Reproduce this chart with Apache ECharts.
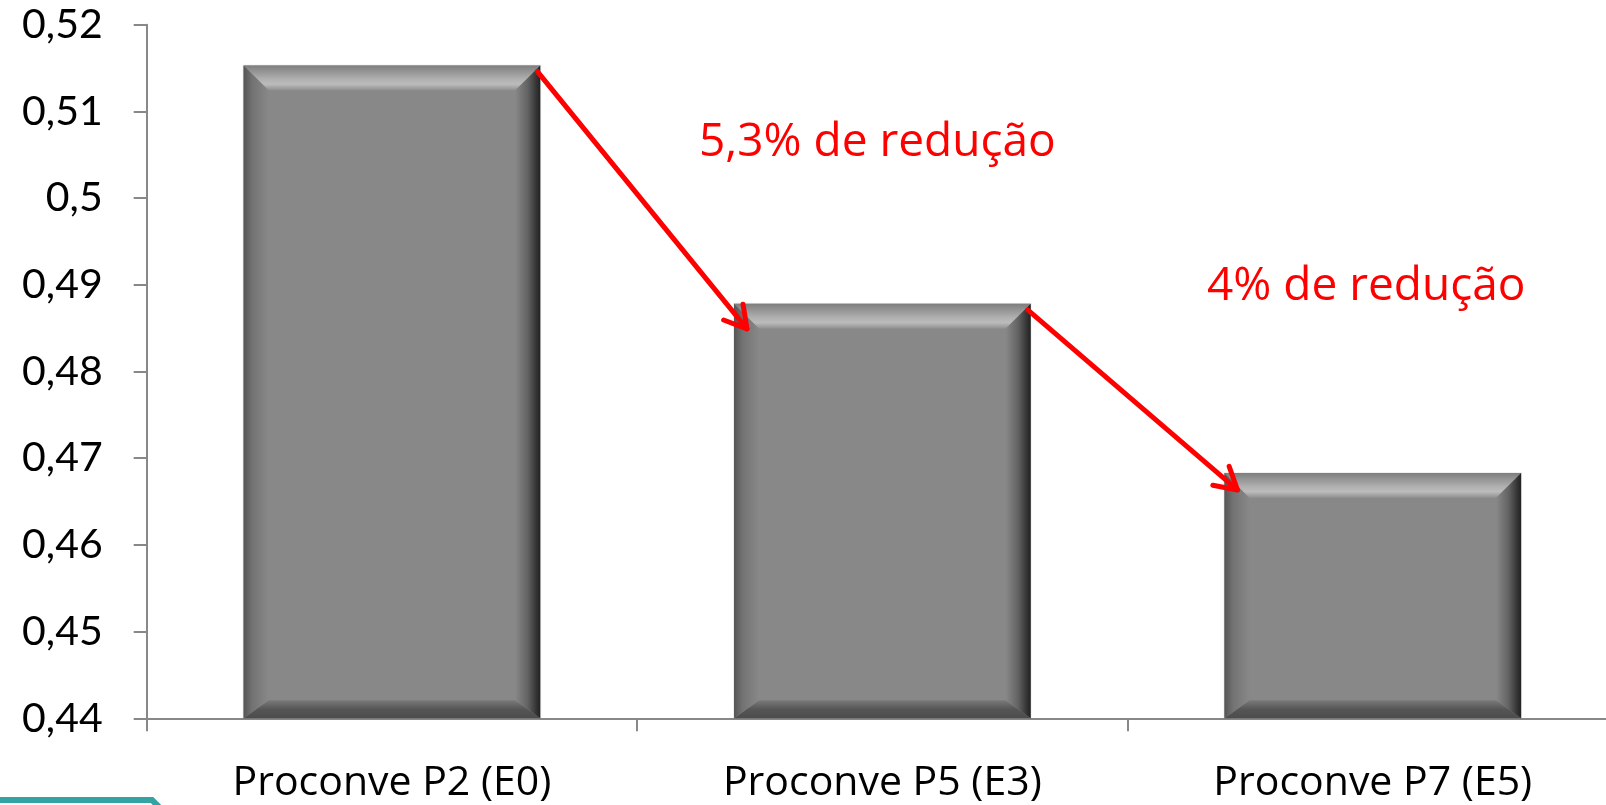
<!DOCTYPE html>
<html>
<head>
<meta charset="utf-8">
<script src="https://cdn.jsdelivr.net/npm/echarts@6/dist/echarts.min.js"></script>
<style>
  html, body { margin: 0; padding: 0; background: #ffffff; overflow: hidden; }
  #chart { width: 1618px; height: 805px; }
</style>
</head>
<body>
<div id="chart"></div>
<script>
// ---- data ----
const categories = ['Proconve P2 (E0)', 'Proconve P5 (E3)', 'Proconve P7 (E5)'];
const values = [0.5153, 0.4878, 0.4683];
const yTickLabels = ['0,44', '0,45', '0,46', '0,47', '0,48', '0,49', '0,5', '0,51', '0,52'];
const annotations = ['5,3% de redução', '4% de redução'];

const Y_MIN = 0.44, Y_MAX = 0.52, Y_STEP = 0.01;
const BAR_FRAC = 0.605;
const FONT_Y = 'Lato, "Open Sans", sans-serif';
const FONT = '"Open Sans", Lato, sans-serif';

function lg(x, y, x2, y2, stops) {
  return new echarts.graphic.LinearGradient(x, y, x2, y2, stops.map(s => ({ offset: s[0], color: s[1] })));
}

function renderBar(params, api) {
  const cat = api.value(0), val = api.value(1);
  const top = api.coord([cat, val]);
  const base = api.coord([cat, Y_MIN]);
  const bw = api.size([1, 0])[0] * BAR_FRAC;
  const x0 = top[0] - bw / 2, x1 = top[0] + bw / 2, y0 = top[1], y1 = base[1];
  const bt = 25, bs = 25, bb = 18;
  return {
    type: 'group',
    children: [
      { type: 'rect', shape: { x: x0 - 1, y: y0 - 1, width: bw + 2, height: y1 - y0 + 1 },
        style: { fill: 'rgba(0,0,0,0.06)' } },
      { type: 'rect', shape: { x: x0, y: y0, width: bw, height: y1 - y0 },
        style: { fill: '#888888' } },
      { type: 'polygon', shape: { points: [[x0, y0], [x1, y0], [x1 - bs, y0 + bt], [x0 + bs, y0 + bt]] },
        style: { fill: lg(0, 0, 0, 1, [[0, '#7e7e7e'], [0.55, '#b0b0b0'], [0.75, '#bcbcbc'], [1, '#8e8e8e']]) } },
      { type: 'polygon', shape: { points: [[x0, y1], [x1, y1], [x1 - bs, y1 - bb], [x0 + bs, y1 - bb]] },
        style: { fill: lg(0, 0, 0, 1, [[0, '#7a7a7a'], [0.5, '#555555'], [1, '#4c4c4c']]) } },
      { type: 'polygon', shape: { points: [[x0, y0], [x0 + bs, y0 + bt], [x0 + bs, y1 - bb], [x0, y1]] },
        style: { fill: lg(0, 0, 1, 0, [[0, '#555555'], [0.35, '#737373'], [1, '#888888']]) } },
      { type: 'polygon', shape: { points: [[x1, y0], [x1 - bs, y0 + bt], [x1 - bs, y1 - bb], [x1, y1]] },
        style: { fill: lg(0, 0, 1, 0, [[0, '#888888'], [0.5, '#626262'], [0.85, '#333333'], [1, '#222222']]) } }
    ]
  };
}

function renderArrow(params, api) {
  const i = api.value(0), j = api.value(2);
  const bw = api.size([1, 0])[0] * BAR_FRAC;
  const pA = api.coord([i, api.value(1)]);
  const pB = api.coord([j, api.value(3)]);
  const sx = pA[0] + bw / 2 - 3, sy = pA[1] + 6;
  const tx = pB[0] - bw / 2 + 13, ty = pB[1] + (params.dataIndex === 0 ? 25 : 17);
  const ang = Math.atan2(sy - ty, sx - tx);
  const L = 25, a = Math.PI / 6;
  const h1 = [tx + L * Math.cos(ang + a), ty + L * Math.sin(ang + a)];
  const h2 = [tx + L * Math.cos(ang - a), ty + L * Math.sin(ang - a)];
  const st = { stroke: '#ff0000', lineWidth: 5, lineCap: 'round', lineJoin: 'round', fill: null };
  return {
    type: 'group',
    children: [
      { type: 'line', shape: { x1: sx, y1: sy, x2: tx, y2: ty }, style: st },
      { type: 'polyline', shape: { points: [h1, [tx, ty], h2] }, style: st }
    ]
  };
}

const chart = echarts.init(document.getElementById('chart'), null, { renderer: 'canvas' });
chart.setOption({
  animation: false,
  backgroundColor: '#ffffff',
  grid: { left: 146.7, top: 24.7, right: 0, height: 693.6, containLabel: false },
  xAxis: {
    type: 'category',
    data: categories,
    boundaryGap: true,
    axisLine: { lineStyle: { color: '#888888', width: 2 } },
    axisTick: { show: true, length: 13, lineStyle: { color: '#888888', width: 2 } },
    axisLabel: { fontFamily: FONT, fontSize: 41, color: '#000000', margin: 45 },
    splitLine: { show: false }
  },
  yAxis: {
    type: 'value',
    min: Y_MIN, max: Y_MAX, interval: Y_STEP,
    axisLine: { show: true, lineStyle: { color: '#888888', width: 2 } },
    axisTick: { show: true, length: 13, lineStyle: { color: '#888888', width: 2 } },
    axisLabel: {
      fontFamily: FONT_Y, fontSize: 41, color: '#000000', margin: 44,
      formatter: function (v) { return yTickLabels[Math.round((v - Y_MIN) / Y_STEP)]; }
    },
    splitLine: { show: false }
  },
  series: [
    {
      type: 'custom',
      renderItem: renderBar,
      encode: { x: 0, y: 1 },
      data: categories.map((c, i) => [i, values[i]]),
      z: 2
    },
    {
      type: 'custom',
      renderItem: renderArrow,
      encode: { x: [0, 2], y: [1, 3] },
      data: [[0, values[0], 1, values[1]], [1, values[1], 2, values[2]]],
      z: 5
    }
  ],
  graphic: [
    { type: 'text', left: 699, top: 120, style: { text: annotations[0], fill: '#ff0000', font: '46px ' + FONT }, z: 10 },
    { type: 'text', left: 1207, top: 264, style: { text: annotations[1], fill: '#ff0000', font: '46px ' + FONT }, z: 10 },
    { type: 'polyline', shape: { points: [[-5, 800], [152, 800], [162, 810]] },
      style: { stroke: '#34a3a3', lineWidth: 6, fill: null }, z: 10 }
  ]
});
</script>
</body>
</html>
